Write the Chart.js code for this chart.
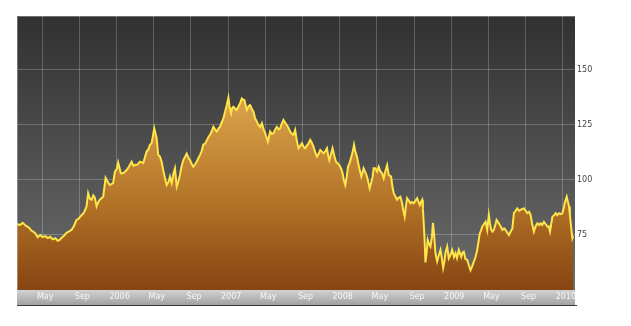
<!DOCTYPE html>
<html>
<head>
<meta charset="utf-8">
<script src="https://cdn.jsdelivr.net/npm/chart.js@4/dist/chart.umd.min.js"></script>
<style>
  html, body { margin: 0; padding: 0; background: #fff; }
  #wrap { width: 631px; height: 326px; }
</style>
</head>
<body>
<div id="wrap"><canvas id="chart" width="631" height="326"></canvas></div>
<script>
// months counted from 1 Jan 2005 (4 = May 2005, 12 = Jan 2006 ...)
const monthsSince2005 = [
  1.3, 1.58, 1.90, 2.30, 2.55, 2.84, 3.20, 3.52, 3.79, 4.06, 4.33, 4.60, 4.87, 5.14, 5.41, 5.67, 5.89, 6.07, 6.32, 6.61,
  6.86, 7.15, 7.40, 7.69, 7.94, 8.23, 8.48, 8.77, 8.94, 9.12, 9.31, 9.50, 9.66, 9.85, 10.04, 10.20, 10.56, 10.82, 11.06, 11.28,
  11.63, 11.82, 12.03, 12.17, 12.46, 12.71, 13.08, 13.33, 13.62, 13.81, 13.97, 14.24, 14.51, 14.87, 15.23, 15.43, 15.59, 15.77, 15.91, 16.05,
  16.31, 16.48, 16.67, 16.85, 17.04, 17.21, 17.39, 17.58, 17.74, 17.93, 18.12, 18.28, 18.47, 18.66, 18.82, 18.98, 19.18, 19.36, 19.54, 19.74,
  19.90, 20.06, 20.25, 20.44, 20.62, 20.81, 20.98, 21.14, 21.33, 21.52, 21.70, 21.89, 22.05, 22.22, 22.41, 22.59, 22.78, 22.97, 23.13, 23.29,
  23.49, 23.67, 23.85, 24.03, 24.16, 24.32, 24.42, 24.56, 24.75, 24.93, 25.12, 25.29, 25.47, 25.61, 25.75, 25.88, 26.01, 26.20, 26.36, 26.53,
  26.72, 26.90, 27.09, 27.26, 27.44, 27.63, 27.82, 27.98, 28.27, 28.52, 28.68, 28.88, 29.06, 29.24, 29.44, 29.60, 29.76, 29.95, 30.14, 30.32,
  30.51, 30.67, 30.84, 31.03, 31.21, 31.38, 31.57, 31.75, 31.94, 32.13, 32.29, 32.45, 32.65, 32.83, 32.99, 33.19, 33.37, 33.55, 33.75, 33.91,
  34.07, 34.26, 34.45, 34.63, 34.77, 34.88, 35.04, 35.23, 35.42, 35.60, 35.79, 35.96, 36.17, 36.31, 36.44, 36.60, 36.76, 36.89, 37.09, 37.25,
  37.41, 37.54, 37.68, 37.86, 38.00, 38.11, 38.33, 38.57, 38.76, 38.94, 39.08, 39.22, 39.40, 39.54, 39.65, 39.83, 40.02, 40.19, 40.37, 40.56,
  40.73, 40.91, 41.10, 41.27, 41.53, 41.67, 41.81, 41.99, 42.17, 42.37, 42.53, 42.71, 42.85, 42.99, 43.12, 43.25, 43.44, 43.61, 43.77, 43.96,
  44.14, 44.33, 44.47, 44.61, 44.74, 44.87, 44.95, 45.04, 45.14, 45.22, 45.33, 45.47, 45.60, 45.76, 45.92, 46.03, 46.14, 46.30, 46.48, 46.68,
  46.84, 47.00, 47.13, 47.27, 47.38, 47.56, 47.73, 47.92, 48.10, 48.29, 48.46, 48.62, 48.81, 49.07, 49.21, 49.35, 49.53, 49.72, 49.91, 50.07,
  50.23, 50.43, 50.61, 50.79, 50.93, 51.07, 51.20, 51.33, 51.53, 51.69, 51.87, 52.04, 52.17, 52.30, 52.44, 52.58, 52.77, 52.87, 53.12, 53.30,
  53.49, 53.68, 53.84, 54.03, 54.20, 54.38, 54.57, 54.74, 54.92, 55.10, 55.30, 55.46, 55.62, 55.82, 56.00, 56.18, 56.38, 56.54, 56.70, 56.89,
  57.08, 57.26, 57.45, 57.61, 57.78, 57.97, 58.15, 58.34, 58.48, 58.62, 58.75, 58.88, 59.07, 59.23, 59.39, 59.59, 59.77, 59.95, 60.09, 60.20,
  60.31, 60.42, 60.55, 60.67, 60.76, 60.85, 60.96, 61.03, 61.12
];

const prices = [
  80, 79.5, 80.5, 79, 78.5, 77, 76, 74, 75, 74, 74.5, 73.6, 74.2, 73, 73.5, 72.4, 72.8, 73.6, 74.5, 76,
  76.5, 77.3, 79, 81.8, 82.5, 84, 85, 87.9, 94, 91.5, 91, 93, 92, 88, 90, 91, 92.4, 101, 99, 97.7,
  98.6, 103.8, 105, 107.9, 103, 103, 104.5, 106, 108.3, 106.5, 106.8, 107, 108.3, 107.7, 112.9, 114, 116, 116.7, 120, 123.5,
  119, 111.4, 110.6, 108.3, 104, 100.8, 97.7, 99, 101.5, 98.5, 103, 105.3, 97, 99.5, 102.3, 106, 109, 110.5, 112, 110,
  109, 107.5, 106, 107, 108.3, 110, 111.4, 113, 116, 116.5, 118, 119.5, 120.5, 122, 124.2, 123, 122, 123.5, 124.2, 126,
  128, 131, 134, 137.4, 133, 130.3, 132.5, 133.3, 132.5, 131.8, 133.5, 134.9, 137, 136.5, 136.4, 134, 131.8, 133.5, 134, 132.5,
  131, 128, 126.5, 125, 124, 125.8, 123, 121.2, 117.4, 122, 121, 121.2, 123, 124.2, 123, 123.5, 125.5, 127.3, 126, 125,
  123.5, 122, 121, 120.5, 122.7, 118, 114.4, 115.5, 116.7, 115, 114.4, 115.5, 116.7, 118.2, 117, 115.1, 112.5, 110.6, 112, 113.6,
  113, 112.1, 113, 114.4, 111, 109, 111.5, 114.4, 111, 108.3, 107.5, 106.8, 105, 103, 100, 97.7, 101.5, 106, 108, 110.6,
  113, 116, 113, 110.6, 107.5, 105.3, 101.5, 105.3, 103.5, 101.5, 99, 96.2, 99, 101.5, 105.3, 105.3, 103.8, 106, 104, 103,
  100.8, 104, 106.8, 102.3, 101.5, 97, 94, 92.5, 91, 92, 92.4, 89.4, 86, 83.3, 88, 91.7, 90.5, 89.4, 90, 89.4,
  90.5, 91.7, 90, 88.6, 90, 91, 87, 80.3, 72, 62.5, 66, 72.7, 71, 69.7, 74, 80.5, 76, 66.7, 63, 66,
  68.2, 64, 60, 63, 67, 69.7, 64.4, 66, 68.2, 65, 66.7, 64.5, 68.2, 65.1, 67, 67.4, 64, 63.6, 61, 59,
  60.5, 62.9, 65, 68.2, 72, 75.8, 77, 78.8, 80, 81, 77.3, 84.1, 80, 77.3, 76.5, 77.3, 80, 81.8, 80.3, 79,
  77.3, 78, 77.3, 76, 75, 76.5, 78, 84.9, 86, 87.1, 86, 86.4, 86.8, 87.1, 86, 84.9, 85.5, 84.1, 80, 76.5,
  79, 80.3, 79.5, 80.3, 79.5, 81, 80, 78.8, 79, 76.5, 80, 83.3, 84, 84.9, 84, 84.9, 84.5, 84.9, 87, 89.4,
  91, 92.4, 90, 87.9, 84, 80.3, 76, 73.5, 74.5
];

const tickMonths = [4, 8, 12, 16, 20, 24, 28, 32, 36, 40, 44, 48, 52, 56, 60];
const tickLabels = ['May', 'Sep', '2006', 'May', 'Sep', '2007', 'May', 'Sep', '2008', 'May', 'Sep', '2009', 'May', 'Sep', '2010'];
const priceTicks = [75, 100, 125, 150];

const gridColor = 'rgba(255, 255, 255, 0.22)';
const labelFont = { family: 'DejaVu Sans', size: 8 };

// dark plot background + grey date band under the plot
const backdrop = {
    id: 'backdrop',
    beforeDraw(chart) {
        const { ctx, chartArea: a } = chart;
        const w = a.right - a.left;
        ctx.save();
        const bg = ctx.createLinearGradient(0, a.top, 0, a.bottom);
        bg.addColorStop(0, '#313131');
        bg.addColorStop(1, '#6c6c6c');
        ctx.fillStyle = bg;
        ctx.fillRect(a.left, a.top, w, a.bottom - a.top);

        const band = ctx.createLinearGradient(0, a.bottom, 0, a.bottom + 15);
        band.addColorStop(0, '#d2d2d2');
        band.addColorStop(1, '#a2a2a2');
        ctx.fillStyle = band;
        ctx.fillRect(a.left, a.bottom, w, 15);
        ctx.fillStyle = '#3a3a3a';
        ctx.fillRect(a.left, a.bottom + 15, w + 2, 1);
        ctx.restore();
    },
    afterDraw(chart) {
        const { ctx, chartArea: a } = chart;
        ctx.save();
        ctx.strokeStyle = 'rgba(255, 255, 255, 0.3)';
        ctx.lineWidth = 1;
        ctx.beginPath();
        ctx.moveTo(a.left + 0.5, a.bottom);
        ctx.lineTo(a.left + 0.5, a.top + 0.5);
        ctx.lineTo(a.right, a.top + 0.5);
        ctx.stroke();
        ctx.restore();
    }
};

function fillGradient(context) {
    const a = context.chart.chartArea;
    if (!a) return '#b07026';
    const g = context.chart.ctx.createLinearGradient(0, a.top, 0, a.bottom);
    g.addColorStop(0, '#ecba5c');
    g.addColorStop(0.35, '#d59e46');
    g.addColorStop(0.7, '#b07026');
    g.addColorStop(1, '#864512');
    return g;
}

new Chart(document.getElementById('chart'), {
    type: 'line',
    data: {
        datasets: [{
            data: monthsSince2005.map((m, i) => ({ x: m, y: prices[i] })),
            borderColor: '#ffe44a',
            borderWidth: 2,
            backgroundColor: fillGradient,
            fill: 'start',
            pointRadius: 0,
            tension: 0
        }]
    },
    options: {
        responsive: false,
        animation: false,
        devicePixelRatio: 1,
        layout: { padding: { left: 17, top: 16, right: 0, bottom: 0 } },
        plugins: {
            legend: { display: false },
            tooltip: { enabled: false }
        },
        scales: {
            x: {
                type: 'linear',
                min: 1.29,
                max: 61.31,
                z: 1,
                afterBuildTicks: scale => { scale.ticks = tickMonths.map(v => ({ value: v })); },
                afterFit: scale => { scale.height = 36; },
                grid: { color: gridColor, drawTicks: false },
                border: { display: false },
                ticks: {
                    autoSkip: false,
                    maxRotation: 0,
                    padding: 2,
                    labelOffset: 3,
                    color: '#f6f6f6',
                    font: labelFont,
                    callback: v => tickLabels[tickMonths.indexOf(v)]
                }
            },
            y: {
                position: 'right',
                min: 50,
                max: 174.5,
                z: 1,
                afterBuildTicks: scale => { scale.ticks = priceTicks.map(v => ({ value: v })); },
                afterFit: scale => { scale.width = 56; },
                grid: { color: gridColor, drawTicks: false },
                border: { display: false },
                ticks: { padding: 2, color: '#444', font: labelFont }
            }
        }
    },
    plugins: [backdrop]
});
</script>
</body>
</html>
